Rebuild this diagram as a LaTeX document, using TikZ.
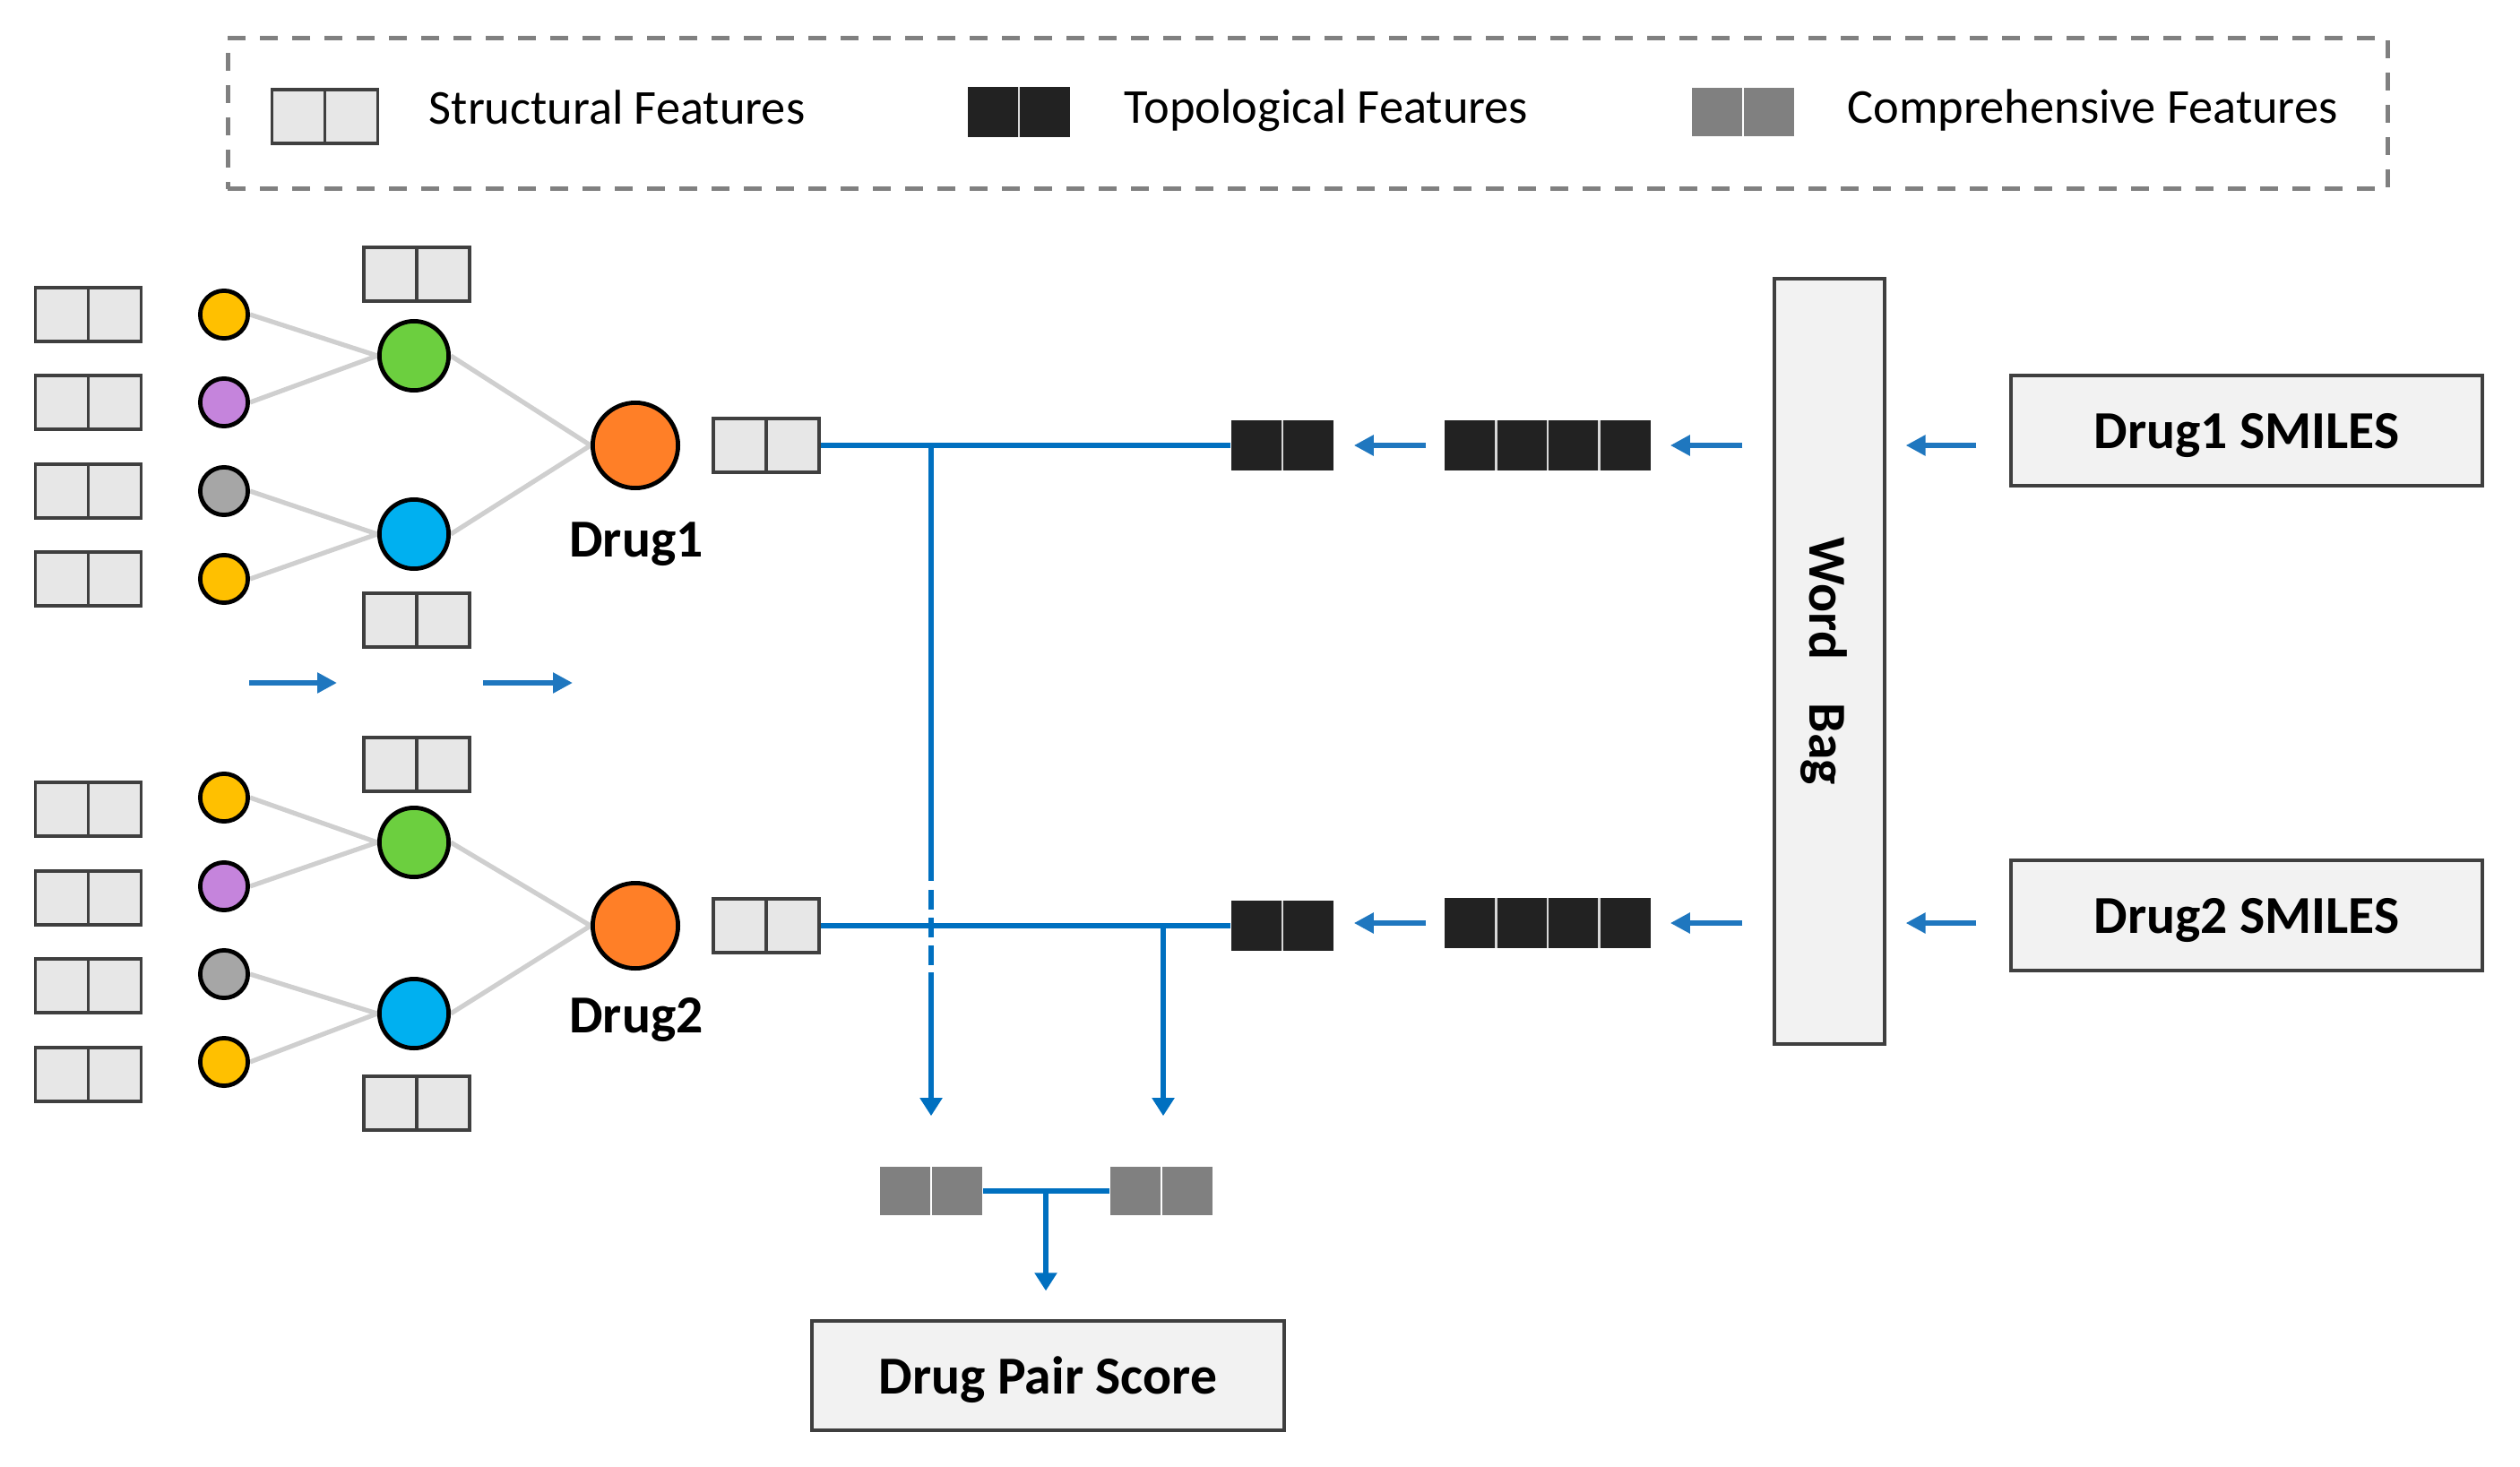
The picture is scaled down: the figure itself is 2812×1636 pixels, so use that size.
\documentclass[tikz,border=0pt]{standalone}
\usepackage{fontspec}
\setmainfont{Carlito}
\usetikzlibrary{arrows.meta,calc,backgrounds}
\definecolor{flight}{HTML}{E7E7E7}
\definecolor{fline}{HTML}{3F3F3F}
\definecolor{fdark}{HTML}{222222}
\definecolor{fgray}{HTML}{808080}
\definecolor{sepcol}{HTML}{D8D8D8}
\definecolor{lblue}{HTML}{0070C0}
\definecolor{ablue}{HTML}{1F77BF}
\definecolor{cyel}{HTML}{FFC000}
\definecolor{cpur}{HTML}{C584DC}
\definecolor{cgry}{HTML}{A6A6A6}
\definecolor{cgrn}{HTML}{6CCF3F}
\definecolor{cblu}{HTML}{00B0F0}
\definecolor{corg}{HTML}{FF7F27}
\definecolor{linkgray}{HTML}{CFCFCF}
\definecolor{panel}{HTML}{F2F2F2}
\tikzset{
  wcell/.style={rectangle, draw=fline, fill=flight, line width=0.8pt,
    minimum width=29.5pt, minimum height=15pt, inner sep=0pt,
    path picture={\draw[fline, line width=0.8pt] (path picture bounding box.north) -- (path picture bounding box.south);}},
  kcell/.style={rectangle, fill=fdark, minimum width=28.5pt, minimum height=14pt, inner sep=0pt,
    path picture={\draw[sepcol, line width=0.6pt] (path picture bounding box.north) -- (path picture bounding box.south);}},
  gcell/.style={rectangle, fill=fgray, minimum width=28.5pt, minimum height=13.5pt, inner sep=0pt,
    path picture={\draw[white, line width=0.6pt] (path picture bounding box.north) -- (path picture bounding box.south);}},
  kfour/.style={rectangle, fill=fdark, minimum width=57.5pt, minimum height=14pt, inner sep=0pt,
    path picture={\foreach \f in {0.25,0.5,0.75}{\draw[sepcol, line width=0.6pt]
      ($(path picture bounding box.south west)!\f!(path picture bounding box.south east)$) --
      ($(path picture bounding box.north west)!\f!(path picture bounding box.north east)$);}}},
  sdot/.style={circle, draw=black, line width=1.2pt, minimum size=13.3pt, inner sep=0pt},
  mdot/.style={sdot, minimum size=19.3pt},
  bdot/.style={sdot, minimum size=23.8pt},
  linkline/.style={linkgray, line width=1.3pt},
  bl/.style={lblue, line width=1.5pt},
  bla/.style={bl, -{Triangle[length=5pt,width=6pt]}},
  sarr/.style={ablue, line width=1.5pt, -{Triangle[length=5.5pt,width=5.5pt]}},
  panelbox/.style={rectangle, draw=fline, fill=panel, line width=0.8pt, inner sep=0pt,
    text depth=0pt, font=\bfseries\fontsize{14.9}{18}\selectfont},
  lbl/.style={font=\bfseries\fontsize{14.9}{18}\selectfont, inner sep=0pt},
  legtext/.style={font=\fontsize{13.6}{16}\selectfont, inner sep=0pt, anchor=base west},
  legendbox/.style={rectangle, draw=fgray, line width=1.25pt, dash pattern=on 5pt off 4pt,
    minimum width=602.5pt, minimum height=42pt, inner sep=0pt}
}
\begin{document}
\begin{tikzpicture}[x=0.25pt,y=-0.25pt]
\useasboundingbox (0,0) rectangle (2812,1636);
% legend
\node[legendbox] (legend) at (1459,127) {};
\node[wcell] (lgw) at (362.5,130) {};
\node[legtext] (lgwt) at (478,139) {Structural Features};
\node[kcell] (lgk) at (1137,125.5) {};
\node[legtext] (lgkt) at (1254,138) {Topological Features};
\node[gcell] (lgg) at (1945,125.5) {};
\node[legtext] (lggt) at (2061,138) {Comprehensive Features};
% drug clusters
\foreach \d/\ba/\bb/\bc/\bd/\ca/\cb/\cc/\cd/\yg/\yu/\yt/\ybt/\yo/\yl in
 {1/351/449/548/646/351/449/548/646/397/596/306/692/497/621,
  2/903/1002/1100/1199/890/989/1087/1185/940/1131/853/1231/1033/1152}{
  \node[wcell] (in\d-1) at (98.5,\ba) {};
  \node[wcell] (in\d-2) at (98.5,\bb) {};
  \node[wcell] (in\d-3) at (98.5,\bc) {};
  \node[wcell] (in\d-4) at (98.5,\bd) {};
  \node[sdot, fill=cyel] (c\d-1) at (250,\ca) {};
  \node[sdot, fill=cpur] (c\d-2) at (250,\cb) {};
  \node[sdot, fill=cgry] (c\d-3) at (250,\cc) {};
  \node[sdot, fill=cyel] (c\d-4) at (250,\cd) {};
  \node[mdot, fill=cgrn] (gr\d) at (462,\yg) {};
  \node[mdot, fill=cblu] (bu\d) at (462,\yu) {};
  \node[wcell] (tp\d) at (465,\yt) {};
  \node[wcell] (bt\d) at (465,\ybt) {};
  \node[bdot, fill=corg] (dr\d) at (709,\yo) {};
  \node[lbl, anchor=base] (dl\d) at (710,\yl) {Drug\d};
  \node[wcell] (o\d) at (855,\yo) {};
  \begin{scope}[on background layer]
    \draw[linkline] (c\d-1.east) -- (gr\d.west);
    \draw[linkline] (c\d-2.east) -- (gr\d.west);
    \draw[linkline] (c\d-3.east) -- (bu\d.west);
    \draw[linkline] (c\d-4.east) -- (bu\d.west);
    \draw[linkline] (gr\d.east) -- (dr\d.west);
    \draw[linkline] (bu\d.east) -- (dr\d.west);
  \end{scope}
}
% arrows between clusters
\coordinate (ha1) at (278,762); \coordinate (hb1) at (376,762);
\coordinate (ha2) at (539,762); \coordinate (hb2) at (639,762);
\draw[sarr] (ha1) -- (hb1);
\draw[sarr] (ha2) -- (hb2);
% right side
\node[kcell] (b1) at (1431,497) {};
\node[kfour] (q1) at (1727,497) {};
\node[kcell] (b2) at (1431,1033) {};
\node[kfour] (q2) at (1727,1030) {};
\node[panelbox, minimum width=30.75pt, minimum height=213.5pt] (wb) at (2041.5,738) {};
\node[lbl, rotate=-90] (wbt) at (2035,738) {Word\hspace{12.25pt}Bag};
\node[panelbox, minimum width=131.5pt, minimum height=30.75pt] (s1) at (2507,480.5) {Drug1 SMILES};
\node[panelbox, minimum width=131.5pt, minimum height=30.75pt] (s2) at (2507,1021.5) {Drug2 SMILES};
\node[panelbox, minimum width=131.75pt, minimum height=30.5pt] (score) at (1169.5,1535) {Drug Pair Score};
% feature arrows
\draw[sarr, shorten <=9.25pt, shorten >=5.5pt] (s1.west |- q1) -- (wb.east |- q1);
\draw[sarr, shorten <=8.5pt, shorten >=5.25pt] (wb.west |- q1) -- (q1.east);
\draw[sarr, shorten <=5pt, shorten >=5.5pt] (q1.west) -- (b1.east);
\draw[sarr, shorten <=9.25pt, shorten >=5.5pt] (s2.west |- q2) -- (wb.east |- q2);
\draw[sarr, shorten <=8.5pt, shorten >=5.25pt] (wb.west |- q2) -- (q2.east);
\draw[sarr, shorten <=5pt, shorten >=5.5pt] (q2.west) -- (b2.east |- q2);
% combination lines
\draw[bl] (o1.east) -- (b1.west);
\draw[bl] (o2.east) -- (b2.west);
\node[gcell] (g1) at (1039,1329) {};
\node[gcell] (g2) at (1296,1329) {};
\coordinate (j1) at (1039,497);
\coordinate (d1a) at (1039,983);
\coordinate (d1b) at (1039,993);
\coordinate (d1c) at (1039,1077);
\coordinate (d1d) at (1039,1085);
\draw[bl] (j1) -- (d1a);
\draw[bl, dash pattern=on 5.5pt off 2.25pt] (d1b) -- (d1c);
\draw[bla, shorten >=14pt] (d1d) -- (g1.north);
\coordinate (j2) at (1298,1033);
\draw[bla, shorten >=14pt] (j2) -- (j2 |- g2.north);
\draw[bl] (g1.east) -- (g2.west);
\coordinate (m) at (1167,1329);
\draw[bla, shorten >=8pt] (m) -- (m |- score.north);
\end{tikzpicture}
\end{document}
